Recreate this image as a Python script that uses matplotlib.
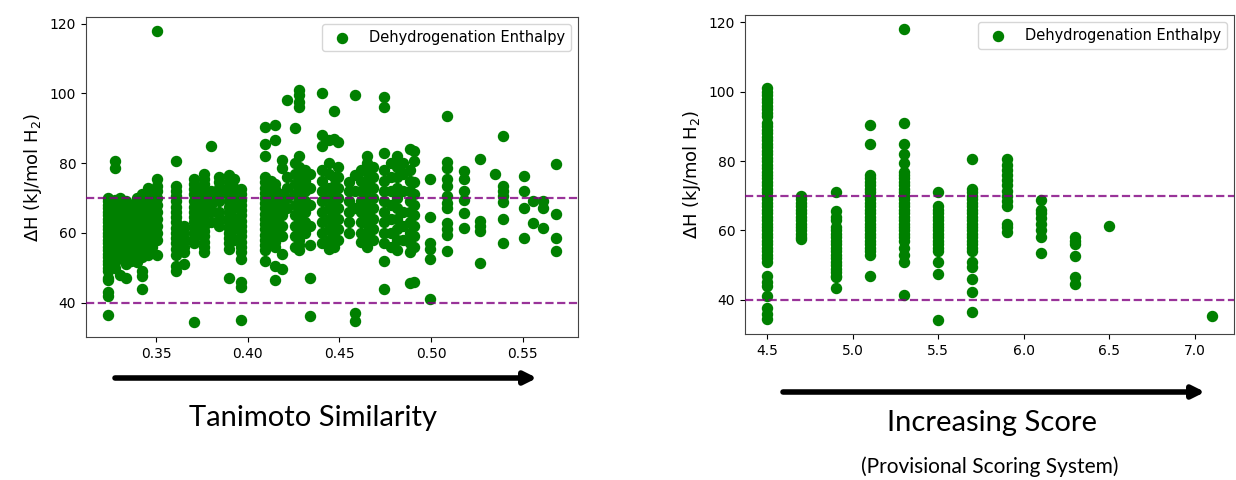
import matplotlib
matplotlib.use("Agg")
import matplotlib.pyplot as plt
import numpy as np

plt.rcParams['font.family'] = ['DejaVu Sans']

# Tanimoto similarity (left panel): column x values and the enthalpies at each
sim_x = [0.324, 0.3275, 0.3305, 0.3335, 0.3365, 0.3395, 0.3425, 0.3455, 0.348, 0.3505,
         0.361, 0.3655, 0.3705, 0.3735, 0.376, 0.380, 0.3845, 0.390, 0.3925, 0.3965,
         0.4095, 0.4125, 0.415, 0.4185, 0.4215, 0.426, 0.4278, 0.4315, 0.434, 0.4405,
         0.4445, 0.447, 0.4495, 0.4555, 0.4585, 0.462, 0.465, 0.4685, 0.4742, 0.478,
         0.4815, 0.485, 0.4888, 0.4905, 0.4994, 0.5085, 0.5179, 0.5265, 0.5352, 0.5395,
         0.5507, 0.5558, 0.5611, 0.568]
sim_dh = [
    [70, 69, 68, 67, 66, 65, 64, 63, 62, 61, 60, 59, 58, 57, 56, 55, 54, 53, 52, 51, 50, 49, 47, 46.5, 43, 42, 36.5],
    [80.5, 78.5, 69.5, 68, 66.5, 65, 63.5, 62, 60.5, 59, 57.5, 56, 54.5, 53, 51.5, 50],
    [70, 68.5, 67, 65.5, 64, 62.5, 61, 59.5, 58, 56.5, 55, 53, 48],
    [69, 67.5, 66, 64, 62, 60, 58, 56, 54, 51, 47],
    [68, 66, 64.5, 63, 61.5, 60, 58.5, 57, 55.5, 54, 52],
    [70, 68.5, 67, 65.5, 64, 62.5, 61, 59.5, 58, 56, 54, 51.5],
    [71, 69.5, 68, 66.5, 65, 63.5, 62, 60.5, 59, 57.5, 56, 54.5, 53, 49, 47.5, 44],
    [73, 71.5, 70, 68, 66, 64, 62, 60, 58, 56, 53.5],
    [72, 70.5, 69, 67.5, 66, 64.5, 63, 61.5, 60, 58, 56],
    [117.8, 75.5, 73.5, 72, 70, 68, 66, 64, 62, 60, 58, 53.5],
    [80.5, 73.5, 72, 70.5, 69, 67.5, 66, 64.5, 63, 61.5, 60, 58.5, 57, 55.5, 53.5, 50.5, 49],
    [62, 60, 58, 56, 54.5, 51],
    [75.5, 74, 72.5, 71, 69, 67.5, 66, 64.5, 63, 61.5, 60, 58.5, 57, 34.3],
    [73, 70.5, 68, 65, 62, 60],
    [77, 75.5, 74, 72.5, 71, 69.5, 68, 66.5, 65, 63.5, 62, 60.5, 59, 57.5, 56, 54.5],
    [85, 72, 70, 68, 66, 63],
    [76, 74.5, 73, 71, 69, 66, 64, 62],
    [76.5, 75, 73.5, 72, 70.5, 69, 67.5, 66, 64.5, 63, 61.5, 60, 58.5, 57, 55.5, 47],
    [75.5, 73, 70, 67, 64, 61, 58],
    [72.5, 71, 69.5, 68, 66.5, 65, 63.5, 62, 60.5, 59, 57.5, 56, 54.5, 52.5, 46, 44.5, 35],
    [90.5, 85.5, 82, 76, 74.5, 73, 71.5, 70, 68.5, 67, 65.5, 64, 62.5, 61, 59.5, 58, 56.5, 55, 52],
    [75, 72, 69, 66, 63, 60, 57],
    [91, 86.5, 74, 72.5, 71, 69.5, 68, 66.5, 65, 63.5, 62, 60.5, 59, 57.5, 56, 50.5, 46.5],
    [81, 78.5, 71, 68, 65, 62, 59, 54, 49.5],
    [98, 76, 73, 70, 67],
    [90, 80, 77, 74, 71, 68, 65, 62, 59, 56],
    [101, 99.5, 97.5, 96, 82, 79, 76.5, 74, 72, 70, 68, 66, 64, 62, 60, 58, 56.5, 55],
    [78, 75, 72, 69, 66, 63, 60],
    [77, 73, 68, 62, 56.5, 47, 36],
    [100, 88, 85, 78, 75, 72, 69, 66, 63, 60, 57],
    [86.5, 80, 77, 73, 70, 67, 64, 61, 58, 55.5],
    [95, 87, 76, 73.5, 71, 68.5, 66, 63.5, 61, 58.5, 56],
    [86, 79, 76, 73, 70, 67, 64, 61, 58],
    [74.5, 72, 69, 66, 63, 60],
    [99.5, 76.5, 72, 67, 37, 34.6],
    [78, 75, 72, 69, 66, 63, 60, 57.5],
    [82, 80, 77.5, 75, 72.5, 70, 67.5, 65, 62.5, 60, 57.5, 56],
    [79, 76, 73, 70, 67, 64, 61, 58],
    [99, 96, 83, 78, 75, 72, 69, 66, 63, 60, 57, 52, 44],
    [80, 76, 72, 68, 64, 60, 56],
    [82, 79, 76, 73, 70, 67, 64, 61, 58, 55],
    [80, 77, 72, 66, 62, 58],
    [84, 78, 75, 72, 69, 66, 63, 60, 57, 54.5, 45.5],
    [83.5, 80.5, 74.5, 71, 68, 65, 62, 59, 56, 46],
    [75.4, 64.4, 57.2, 55.5, 52.4, 40.9],
    [93.6, 80.2, 78.5, 75.4, 73.5, 70.6, 68.5, 67, 62.9, 61, 59.5, 54.8],
    [77.8, 75.5, 72, 69.5, 65.8, 61.5],
    [81.2, 63.4, 62, 60.5, 51.4],
    [76.8],
    [87.9, 73.5, 72, 70.5, 68.7, 63.9, 57.2],
    [76.4, 72, 67.2, 58.6],
    [69.2, 62.9],
    [69.2, 67.2, 61.5],
    [79.7, 65.3, 58.6, 54.8],
]

# provisional score (right panel)
score_x = [4.5, 4.7, 4.9, 5.1, 5.3, 5.5, 5.7, 5.9, 6.1, 6.3, 6.5, 7.1]
score_dh = [
    [101, 100, 99, 98, 97, 96, 95, 94, 93, 91, 90, 89, 88, 87, 86, 85, 84, 83, 82, 81,
     80, 79, 78, 77, 76, 75, 74, 73, 72, 71, 70, 69, 68, 67, 66, 65, 64, 63, 62, 61,
     60, 59, 58, 57, 56, 55, 54, 53, 52, 51, 47, 45, 44, 41, 37.5, 36, 34.5],
    [70, 69, 68, 67, 66, 65, 64, 63, 62, 61, 60, 59, 58, 57.5],
    [71, 65.5, 64, 63, 61, 60, 59, 58, 57, 56, 55, 54, 53, 52, 51, 50, 49, 48, 47, 46.5, 43.5],
    [90.5, 85, 76, 75, 74, 73, 72, 71, 70, 69, 68, 67, 66, 65, 64, 63, 62, 61, 60, 59,
     58, 57, 56, 55, 54, 53, 47],
    [118, 91, 85, 82, 79.5, 77, 76, 75, 74, 73, 72, 71, 70, 69, 68, 67, 66, 65, 64, 63,
     62, 61, 60, 59, 58, 57, 55, 53, 51, 41.5],
    [71, 67, 66, 65, 64, 63, 62, 61, 60, 59, 58, 57, 56, 55, 54, 51, 47.5, 34.3],
    [80.5, 72, 71, 70, 69, 68, 67, 66, 65, 64, 63, 62, 61, 60, 59, 58, 57, 56, 55, 54,
     51, 49.5, 46, 42.3, 36.5],
    [80.5, 79, 77.5, 76, 74.5, 73, 71.5, 70, 68.5, 67, 62, 61, 59.5],
    [68.8, 66, 65, 63.5, 62, 60, 58, 53.5],
    [58, 57, 56, 52.5, 46.5, 44.5],
    [61.3],
    [35.2],
]

upper_line = 70
lower_line = 40


def flatten(xs, ys):
    px = np.concatenate([[x] * len(y) for x, y in zip(xs, ys)])
    py = np.concatenate([np.array(y, dtype=float) for y in ys])
    return px, py


fig = plt.figure(figsize=(12.36, 4.8), dpi=100)
ax1 = fig.add_axes([0.0696, 0.298, 0.398, 0.667])
ax2 = fig.add_axes([0.6027, 0.304, 0.3956, 0.665])

for ax, xs, ys in [(ax1, sim_x, sim_dh), (ax2, score_x, score_dh)]:
    px, py = flatten(xs, ys)
    ax.scatter(px, py, s=52, color='green', label='Dehydrogenation Enthalpy', zorder=2)
    ax.axhline(upper_line, color='purple', linestyle='--', linewidth=1.6, alpha=0.8, zorder=3)
    ax.axhline(lower_line, color='purple', linestyle='--', linewidth=1.6, alpha=0.8, zorder=3)
    ax.set_ylabel(r'$\Delta$H (kJ/mol H$_2$)', fontsize=13)
    ax.tick_params(labelsize=10)
    ax.legend(loc='upper right', fontsize=10.5)
    ax.set_yticks([40, 60, 80, 100, 120])
    for sp in ax.spines.values():
        sp.set_color('#444444')

ax1.set_xticks([0.35, 0.40, 0.45, 0.50, 0.55])
ax2.set_xticks([4.5, 5.0, 5.5, 6.0, 6.5, 7.0])

# arrows and captions under the panels
arrow = dict(arrowstyle='-|>', lw=4, color='black', mutation_scale=18, shrinkA=0, shrinkB=0)
ax1.annotate('', xy=(537 / 1236, 1 - 378 / 480), xytext=(115 / 1236, 1 - 378 / 480),
             xycoords='figure fraction', textcoords='figure fraction', arrowprops=arrow)
ax2.annotate('', xy=(1205 / 1236, 1 - 392 / 480), xytext=(783 / 1236, 1 - 392 / 480),
             xycoords='figure fraction', textcoords='figure fraction', arrowprops=arrow)

fig.text(313 / 1236, 1 - 418 / 480, 'Tanimoto Similarity', fontsize=21, family='Lato',
         ha='center', va='center')
fig.text(992 / 1236, 1 - 423 / 480, 'Increasing Score', fontsize=21, family='Lato',
         ha='center', va='center')
fig.text(990 / 1236, 1 - 467 / 480, '(Provisional Scoring System)', fontsize=15, family='Lato',
         ha='center', va='center')

plt.savefig('out.png', dpi=100)
plt.close()
